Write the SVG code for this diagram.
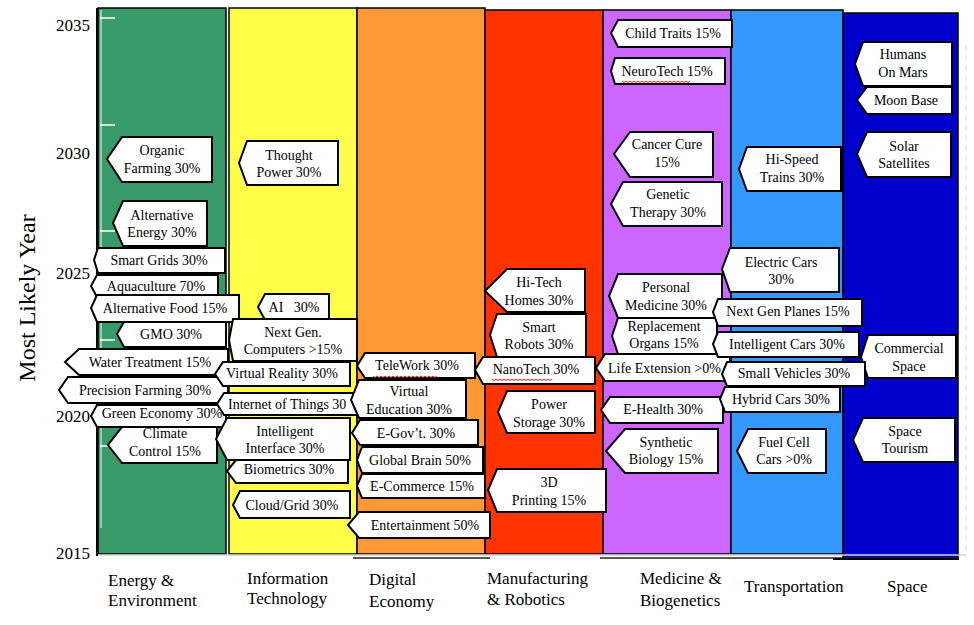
<svg xmlns="http://www.w3.org/2000/svg" width="974" height="625" viewBox="0 0 974 625">
<style>
.col{stroke:#000;stroke-width:1.5}
.co{fill:#fff;stroke:#000;stroke-width:2;stroke-linejoin:miter}
.t{font-family:"Liberation Serif","Times New Roman",serif;font-size:14px;text-anchor:middle;fill:#000}
.ts{font-family:"Liberation Serif","Times New Roman",serif;font-size:14px;text-anchor:start;fill:#000}
.yr{font-family:"Liberation Serif","Times New Roman",serif;font-size:17px;text-anchor:end;fill:#000}
.cat{font-family:"Liberation Serif","Times New Roman",serif;font-size:17px;text-anchor:start;fill:#000}
.sq{fill:none;stroke:#e02020;stroke-width:1}
.tick{stroke:#fff;stroke-width:1.5}
</style>
<rect width="974" height="625" fill="#fff"/>
<g id="columns">
<rect class="col" x="98" y="8" width="128" height="546" fill="#389a69"/>
<rect class="col" x="229" y="8" width="128" height="546" fill="#ffff4a"/>
<rect class="col" x="357" y="8" width="128" height="546" fill="#ff9933"/>
<rect class="col" x="485" y="10" width="118" height="544" fill="#ff3300"/>
<rect class="col" x="603" y="10" width="128" height="544" fill="#cc66ff"/>
<rect class="col" x="731" y="10" width="112" height="544" fill="#3399ff"/>
<rect class="col" x="843" y="13" width="115" height="545" fill="#0000cc"/>
<line x1="98" y1="555" x2="966" y2="555" stroke="#d0d0d0" stroke-width="1.5"/>
<line x1="353" y1="558" x2="490" y2="558" stroke="#222" stroke-width="1.5"/>
<line x1="600" y1="558" x2="958" y2="558" stroke="#222" stroke-width="1.5"/>
<line x1="833" y1="559" x2="959" y2="559" stroke="#000" stroke-width="2"/>
<line x1="966" y1="45" x2="966" y2="555" stroke="#ddd" stroke-width="1" stroke-dasharray="6 4"/>
</g>
<g id="axis">
<line x1="97" y1="8" x2="97" y2="556" stroke="#000" stroke-width="2"/>
<line x1="101" y1="10" x2="101" y2="528" stroke="#fff" stroke-width="1"/>
<line class="tick" x1="100" y1="18" x2="115" y2="18"/>
<line class="tick" x1="100" y1="125" x2="115" y2="125"/>
<line class="tick" x1="100" y1="231" x2="115" y2="231"/>
<line class="tick" x1="100" y1="340" x2="115" y2="340"/>
<line class="tick" x1="100" y1="446" x2="115" y2="446"/>
<text class="yr" x="90" y="31">2035</text>
<text class="yr" x="90" y="159">2030</text>
<text class="yr" x="90" y="279">2025</text>
<text class="yr" x="90" y="422">2020</text>
<text class="yr" x="90" y="559">2015</text>
<text transform="translate(35,298) rotate(-90)" style="font-family:'Liberation Serif','Times New Roman',serif;font-size:24px;text-anchor:middle">Most Likely Year</text>
</g>
<g id="categories">
<text class="cat" x="108" y="586">Energy &amp;</text>
<text class="cat" x="108" y="606">Environment</text>
<text class="cat" x="247" y="584">Information</text>
<text class="cat" x="247" y="604">Technology</text>
<text class="cat" x="369" y="585">Digital</text>
<text class="cat" x="369" y="607">Economy</text>
<text class="cat" x="487" y="584">Manufacturing</text>
<text class="cat" x="487" y="605">&amp; Robotics</text>
<text class="cat" x="640" y="584">Medicine &amp;</text>
<text class="cat" x="640" y="606">Biogenetics</text>
<text class="cat" x="744" y="592">Transportation</text>
<text class="cat" x="887" y="592">Space</text>
</g>
<g id="connectors"></g>
<g id="n-organic"><polygon class="co" points="122,137 212,137 212,182 122,182 107,159"/><text class="t" x="162" y="155">Organic</text><text class="t" x="162" y="173">Farming 30%</text></g>
<g id="n-altenergy"><polygon class="co" points="123,201 207,201 207,246 123,246 113,223"/><text class="t" x="162" y="220">Alternative</text><text class="t" x="162" y="237">Energy 30%</text></g>
<g id="n-smartgrids"><polygon class="co" points="98,248 225,248 225,273 98,273 94,260"/><text class="t" x="159" y="265">Smart Grids 30%</text></g>
<g id="n-aquaculture"><polygon class="co" points="97,275 218,275 218,297 97,297 91,286"/><text class="t" x="156" y="291">Aquaculture 70%</text></g>
<g id="n-altfood"><polygon class="co" points="97,295 239,295 239,322 97,322 91,308"/><text class="t" x="165" y="313">Alternative Food 15%</text></g>
<g id="n-gmo"><polygon class="co" points="124,322 226,322 226,347 124,347 117,334"/><text class="t" x="171" y="339">GMO 30%</text></g>
<g id="n-water"><polygon class="co" points="79,349 228,349 228,375 79,375 65,362"/><text class="t" x="150" y="367">Water Treatment 15%</text></g>
<g id="n-precision"><polygon class="co" points="68,377 228,377 228,403 68,403 59,390"/><text class="t" x="145" y="395">Precision Farming 30%</text></g>
<g id="n-climate"><polygon class="co" points="122,427 217,427 217,463 122,463 108,445"/><text class="t" x="165" y="438">Climate</text><text class="t" x="165" y="456">Control 15%</text></g>
<g id="n-greeneco"><polygon class="co" points="97,405 226,405 226,427 97,427 91,416"/><text class="t" x="162" y="418">Green Economy 30%</text></g>
<g id="n-thought"><polygon class="co" points="247,141 338,141 338,185 247,185 239,163"/><text class="t" x="289" y="160">Thought</text><text class="t" x="289" y="177">Power 30%</text></g>
<g id="n-ai"><polygon class="co" points="265,294 329,294 329,320 265,320 258,307"/><text class="t" x="294" y="312" xml:space="preserve">AI   30%</text></g>
<g id="n-nextgen"><polygon class="co" points="233,319 357,319 357,361 233,361 229,340"/><text class="t" x="293" y="337">Next Gen.</text><text class="t" x="293" y="354">Computers &gt;15%</text></g>
<g id="n-vr"><polygon class="co" points="223,362 350,362 350,386 223,386 215,374"/><text class="t" x="282" y="378">Virtual Reality 30%</text></g>
<g id="n-iot"><polygon class="co" points="224,393 360,393 360,415 224,415 217,404"/><text class="ts" x="228" y="409">Internet of Things 30</text></g>
<g id="n-interface"><polygon class="co" points="227,418 350,418 350,460 227,460 216,439"/><text class="t" x="285" y="436">Intelligent</text><text class="t" x="285" y="453">Interface 30%</text></g>
<g id="n-biometrics"><polygon class="co" points="236,460 348,460 348,483 236,483 227,471"/><text class="t" x="289" y="474">Biometrics 30%</text></g>
<g id="n-cloud"><polygon class="co" points="240,491 350,491 350,518 240,518 233,505"/><text class="t" x="292" y="510">Cloud/Grid 30%</text></g>
<g id="n-telework"><polygon class="co" points="365,353 475,353 475,378 365,378 357,366"/><text class="t" x="417" y="370">TeleWork 30%</text><path class="sq" d="M373,376 l2,1.5 l2,-1.5 l2,1.5 l2,-1.5 l2,1.5 l2,-1.5 l2,1.5 l2,-1.5 l2,1.5 l2,-1.5 l2,1.5 l2,-1.5 l2,1.5 l2,-1.5 l2,1.5 l2,-1.5 l2,1.5 l2,-1.5 l2,1.5 l2,-1.5 l2,1.5 l2,-1.5 l2,1.5 l2,-1.5 l2,1.5 l2,-1.5 l2,1.5 l2,-1.5 l2,1.5 l2,-1.5 l2,1.5 l2,-1.5"/></g>
<g id="n-virtualedu"><polygon class="co" points="359,380 466,380 466,418 359,418 351,400"/><text class="t" x="409" y="396">Virtual</text><text class="t" x="409" y="414">Education 30%</text></g>
<g id="n-egov"><polygon class="co" points="360,420 478,420 478,445 360,445 352,433"/><text class="t" x="416" y="438">E-Gov’t. 30%</text></g>
<g id="n-globalbrain"><polygon class="co" points="362,447 483,447 483,473 362,473 357,460"/><text class="t" x="420" y="465">Global Brain 50%</text></g>
<g id="n-ecommerce"><polygon class="co" points="362,474 485,474 485,498 362,498 357,486"/><text class="t" x="422" y="491">E-Commerce 15%</text></g>
<g id="n-entertainment"><polygon class="co" points="359,512 490,512 490,538 359,538 348,525"/><text class="t" x="425" y="530">Entertainment 50%</text></g>
<g id="n-hitech"><polygon class="co" points="507,269 585,269 585,312 507,312 485,291"/><text class="t" x="539" y="287">Hi-Tech</text><text class="t" x="539" y="305">Homes 30%</text></g>
<g id="n-robots"><polygon class="co" points="497,314 586,314 586,357 497,357 490,335"/><text class="t" x="539" y="332">Smart</text><text class="t" x="539" y="349">Robots 30%</text></g>
<g id="n-nanotech"><polygon class="co" points="483,357 595,357 595,384 483,384 475,370"/><text class="t" x="536" y="374">NanoTech 30%</text><path class="sq" d="M492,379 l2,1.5 l2,-1.5 l2,1.5 l2,-1.5 l2,1.5 l2,-1.5 l2,1.5 l2,-1.5 l2,1.5 l2,-1.5 l2,1.5 l2,-1.5 l2,1.5 l2,-1.5 l2,1.5 l2,-1.5 l2,1.5 l2,-1.5 l2,1.5 l2,-1.5 l2,1.5 l2,-1.5 l2,1.5 l2,-1.5 l2,1.5 l2,-1.5 l2,1.5 l2,-1.5 l2,1.5 l2,-1.5"/></g>
<g id="n-power"><polygon class="co" points="507,391 595,391 595,433 507,433 498,412"/><text class="t" x="549" y="409">Power</text><text class="t" x="549" y="427">Storage 30%</text></g>
<g id="n-3d"><polygon class="co" points="497,469 606,469 606,512 497,512 488,490"/><text class="t" x="549" y="487">3D</text><text class="t" x="549" y="505">Printing 15%</text></g>
<g id="n-child"><polygon class="co" points="618,20 732,20 732,47 618,47 611,33"/><text class="t" x="673" y="38">Child Traits 15%</text></g>
<g id="n-neuro"><polygon class="co" points="615,58 725,58 725,84 615,84 611,71"/><text class="t" x="667" y="76">NeuroTech 15%</text><path class="sq" d="M622,81 l2,1.5 l2,-1.5 l2,1.5 l2,-1.5 l2,1.5 l2,-1.5 l2,1.5 l2,-1.5 l2,1.5 l2,-1.5 l2,1.5 l2,-1.5 l2,1.5 l2,-1.5 l2,1.5 l2,-1.5 l2,1.5 l2,-1.5 l2,1.5 l2,-1.5 l2,1.5 l2,-1.5 l2,1.5 l2,-1.5 l2,1.5 l2,-1.5 l2,1.5 l2,-1.5 l2,1.5 l2,-1.5 l2,1.5 l2,-1.5 l2,1.5 l2,-1.5"/></g>
<g id="n-cancer"><polygon class="co" points="630,132 713,132 713,177 630,177 614,154"/><text class="t" x="667" y="149">Cancer Cure</text><text class="t" x="667" y="167">15%</text></g>
<g id="n-genetic"><polygon class="co" points="623,182 722,182 722,226 623,226 611,204"/><text class="t" x="668" y="199">Genetic</text><text class="t" x="668" y="217">Therapy 30%</text></g>
<g id="n-personal"><polygon class="co" points="618,274 722,274 722,318 618,318 609,296"/><text class="t" x="666" y="292">Personal</text><text class="t" x="666" y="310">Medicine 30%</text></g>
<g id="n-replacement"><polygon class="co" points="618,318 717,318 717,354 618,354 612,336"/><text class="t" x="664" y="331">Replacement</text><text class="t" x="664" y="348">Organs 15%</text></g>
<g id="n-lifeext"><polygon class="co" points="605,354 730,354 730,381 605,381 596,368"/><text class="ts" x="608" y="373">Life Extension &gt;0%</text></g>
<g id="n-ehealth"><polygon class="co" points="610,397 723,397 723,423 610,423 601,410"/><text class="t" x="663" y="414">E-Health 30%</text></g>
<g id="n-synthetic"><polygon class="co" points="625,429 718,429 718,473 625,473 606,451"/><text class="t" x="666" y="447">Synthetic</text><text class="t" x="666" y="464">Biology 15%</text></g>
<g id="n-hispeed"><polygon class="co" points="747,147 841,147 841,191 747,191 739,169"/><text class="t" x="792" y="164">Hi-Speed</text><text class="t" x="792" y="182">Trains 30%</text></g>
<g id="n-electric"><polygon class="co" points="730,248 839,248 839,292 730,292 722,269"/><text class="t" x="781" y="267">Electric Cars</text><text class="t" x="781" y="284">30%</text></g>
<g id="n-planes"><polygon class="co" points="718,299 862,299 862,326 718,326 713,312"/><text class="t" x="788" y="316">Next Gen Planes 15%</text></g>
<g id="n-intcars"><polygon class="co" points="718,332 859,332 859,357 718,357 713,344"/><text class="t" x="787" y="349">Intelligent Cars 30%</text></g>
<g id="n-commercial"><polygon class="co" points="868,335 956,335 956,378 868,378 861,357"/><text class="t" x="909" y="353">Commercial</text><text class="t" x="909" y="371">Space</text></g>
<g id="n-smallveh"><polygon class="co" points="727,362 865,362 865,386 727,386 722,374"/><text class="t" x="794" y="378">Small Vehicles 30%</text></g>
<g id="n-hybrid"><polygon class="co" points="725,387 840,387 840,412 725,412 720,399"/><text class="t" x="781" y="404">Hybrid Cars 30%</text></g>
<g id="n-fuelcell"><polygon class="co" points="748,429 826,429 826,473 748,473 737,451"/><text class="t" x="784" y="447">Fuel Cell</text><text class="t" x="784" y="464">Cars &gt;0%</text></g>
<g id="n-mars"><polygon class="co" points="863,42 952,42 952,86 863,86 855,64"/><text class="t" x="903" y="59">Humans</text><text class="t" x="903" y="77">On Mars</text></g>
<g id="n-moon"><polygon class="co" points="867,87 952,87 952,114 867,114 857,100"/><text class="t" x="906" y="105">Moon Base</text></g>
<g id="n-solar"><polygon class="co" points="867,132 951,132 951,177 867,177 857,154"/><text class="t" x="904" y="151">Solar</text><text class="t" x="904" y="168">Satellites</text></g>
<g id="n-tourism"><polygon class="co" points="863,418 955,418 955,462 863,462 853,440"/><text class="t" x="905" y="436">Space</text><text class="t" x="905" y="453">Tourism</text></g>
</svg>
